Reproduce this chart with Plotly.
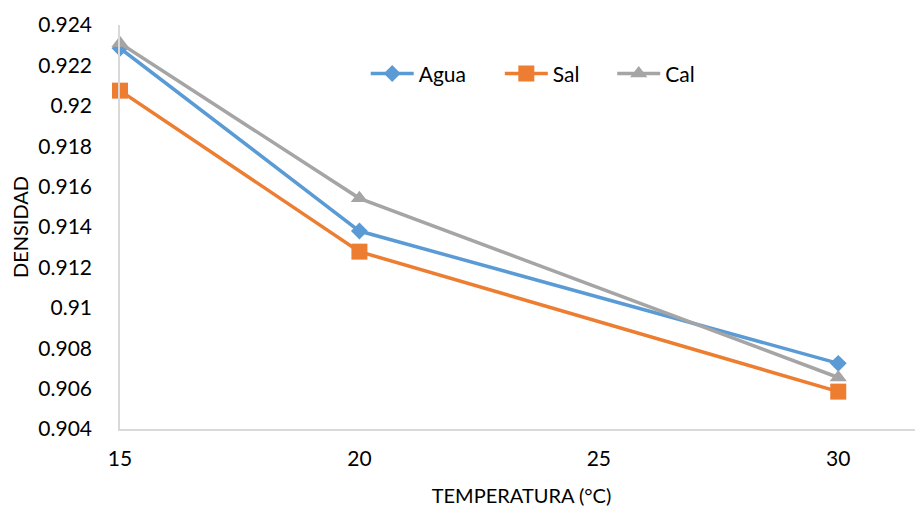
import plotly.graph_objects as go

temperatura = [15, 20, 30]
agua = [0.92285, 0.9138, 0.90725]
sal = [0.92075, 0.91278, 0.90585]
cal = [0.9231, 0.91542, 0.90655]

series = [
    ("Agua", agua, "#5B9BD5", "diamond", 13, "legend", 0.306),
    ("Sal", sal, "#ED7D31", "square", 16, "legend2", 0.473),
    ("Cal", cal, "#A5A5A5", "triangle-up", 15, "legend3", 0.613),
]

font = "Lato, 'Open Sans', sans-serif"
fig = go.Figure()
legends = {}
for name, vals, color, sym, size, lg, lx in series:
    fig.add_trace(go.Scatter(
        x=temperatura, y=vals, name=name, mode="lines+markers",
        line=dict(color=color, width=3.5),
        marker=dict(symbol=sym, size=size, color=color),
        cliponaxis=False, legend=lg,
    ))
    legends[lg] = dict(orientation="h", x=lx, y=0.879, xanchor="left", yanchor="middle",
                       itemwidth=43,
                       font=dict(size=21, family=font), bgcolor="rgba(0,0,0,0)")

# page body has an 8px margin, so the figure is sized to fit the visible window
fig.update_layout(
    width=915, height=499,
    margin=dict(l=112, r=0, t=17, b=78),
    plot_bgcolor="white", paper_bgcolor="white",
    font=dict(family=font, size=21, color="#000000"),
    showlegend=True,
    **legends,
    xaxis=dict(
        range=[15, 31.77], tickvals=[15, 20, 25, 30], showgrid=False,
        showline=True, linecolor="#D9D9D9", linewidth=1.5, zeroline=False,
        ticks="", ticklabelstandoff=10, automargin=False,
        title=dict(text="TEMPERATURA (°C)", font=dict(size=20), standoff=21),
    ),
    yaxis=dict(
        range=[0.904, 0.924], showgrid=False,
        tickvals=[0.904, 0.906, 0.908, 0.91, 0.912, 0.914, 0.916, 0.918, 0.92, 0.922, 0.924],
        ticktext=["0.904", "0.906", "0.908", "0.91", "0.912", "0.914", "0.916", "0.918", "0.92", "0.922", "0.924"],
        showline=True, linecolor="#D9D9D9", linewidth=1.5, zeroline=False,
        ticks="", ticklabelstandoff=22, automargin=False,
        title=dict(text="DENSIDAD", font=dict(size=20), standoff=13),
    ),
)

fig.write_html("out.html")
